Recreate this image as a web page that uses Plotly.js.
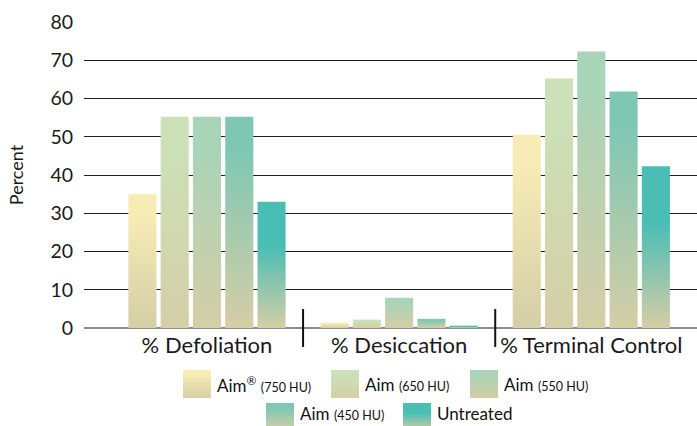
<!DOCTYPE html>
<html>
<head>
<meta charset="utf-8">
<script src="https://cdn.plot.ly/plotly-3.0.1.min.js"></script>
<style>
html,body{margin:0;padding:0;background:#fff;}
#chart{width:697px;height:426px;}
</style>
</head>
<body>
<div id="chart"></div>
<script>
// ---- data ----
const categories = ['% Defoliation', '% Desiccation', '% Terminal Control'];
const seriesNames = ['Aim® (750 HU)', 'Aim (650 HU)', 'Aim (550 HU)', 'Aim (450 HU)', 'Untreated'];
const legendLabels = [
  'Aim<sup>®</sup> <span style="font-size:12.5px">(750 HU)</span>',
  'Aim <span style="font-size:12.5px">(650 HU)</span>',
  'Aim <span style="font-size:12.5px">(550 HU)</span>',
  'Aim <span style="font-size:12.5px">(450 HU)</span>',
  'Untreated'
];
const aim750 = [35, 1.4, 50.5];
const aim650 = [55.2, 2.2, 65.2];
const aim550 = [55.2, 7.9, 72.3];
const aim450 = [55.2, 2.4, 61.8];
const untreated = [33, 0.6, 42.3];
const seriesValues = [aim750, aim650, aim550, aim450, untreated];
const topColors = ['#f7ecb5', '#cce1b7', '#a8d4b7', '#7ec7b4', '#4abdb5'];
const bottomColor = '#d5cea6';
const yTicks = [0, 10, 20, 30, 40, 50, 60, 70, 80];

// ---- layout helpers (pixel -> paper) ----
const W = 697, H = 426;
const M = {l: 84, r: 0, t: 22, b: 98};
const PW = W - M.l - M.r, PH = H - M.t - M.b;
const px = x => (x - M.l) / PW;
const py = y => (H - M.b - y) / PH;

const font = 'Lato, "Open Sans", sans-serif';

const traces = seriesNames.map((n, i) => ({
  type: 'bar',
  name: n,
  x: categories,
  y: seriesValues[i],
  marker: {color: topColors[i], line: {width: 0}},
  showlegend: false,
  hoverinfo: 'skip'
}));

// legend layout (custom, two centred rows)
const legendPos = [
  {sx: 183, cy: 384, ty: 384}, {sx: 331, cy: 384, ty: 384}, {sx: 470, cy: 384, ty: 384},
  {sx: 266, cy: 417, ty: 414}, {sx: 403, cy: 417, ty: 414}
];
const SW = 28;
const shapes = [];
const annotations = [];
legendPos.forEach((p, i) => {
  shapes.push({
    type: 'rect', xref: 'paper', yref: 'paper',
    x0: px(p.sx), x1: px(p.sx + SW),
    y0: py(p.cy - SW / 2), y1: py(p.cy + SW / 2),
    line: {width: 0}, fillcolor: topColors[i], layer: 'above'
  });
  annotations.push({
    xref: 'paper', yref: 'paper', x: px(p.sx + SW + 4), y: py(p.ty),
    xanchor: 'left', yanchor: 'middle', showarrow: false,
    text: legendLabels[i], font: {family: font, size: 17, color: '#111'}
  });
});
// category separators
[0.5, 1.5].forEach(xv => {
  shapes.push({
    type: 'line', xref: 'x', yref: 'paper',
    x0: xv, x1: xv, y0: py(309), y1: py(347),
    line: {color: '#111', width: 2}, layer: 'above'
  });
});

const layout = {
  width: W, height: H,
  margin: M,
  paper_bgcolor: '#fff', plot_bgcolor: '#fff',
  barmode: 'group', bargap: 0.16, bargroupgap: 0.13,
  font: {family: font, color: '#222'},
  xaxis: {
    type: 'category', range: [-0.64, 2.55],
    showgrid: false, showline: false, zeroline: false, ticks: '',
    tickfont: {family: font, size: 22, color: '#1a1a1a'},
    ticklabelstandoff: 2
  },
  yaxis: {
    range: [0, 80], tickvals: yTicks, ticktext: yTicks.map(String),
    showgrid: true, gridcolor: '#1f1f1f', gridwidth: 1,
    zeroline: true, zerolinecolor: '#8a8a8a', zerolinewidth: 1.5,
    showline: false, ticks: '',
    tickfont: {family: font, size: 19.5, color: '#1a1a1a'},
    ticklabelstandoff: 10,
    title: {text: 'Percent', font: {family: font, size: 18, color: '#1a1a1a'}, standoff: 22}
  },
  shapes: shapes,
  annotations: annotations
};

const gd = document.getElementById('chart');
Plotly.newPlot(gd, traces, layout, {staticPlot: true, displayModeBar: false}).then(() => {
  const svg = gd.querySelector('svg.main-svg');
  const NS = 'http://www.w3.org/2000/svg';
  let defs = svg.querySelector('defs');
  if (!defs) { defs = document.createElementNS(NS, 'defs'); svg.insertBefore(defs, svg.firstChild); }
  topColors.forEach((c, i) => {
    const g = document.createElementNS(NS, 'linearGradient');
    g.setAttribute('id', 'barGrad' + i);
    g.setAttribute('x1', '0'); g.setAttribute('y1', '0');
    g.setAttribute('x2', '0'); g.setAttribute('y2', '1');
    const stops = i === 4 ? [[0, c], [0.35, c], [1, bottomColor]] : [[0, c], [0.15, c], [1, bottomColor]];
    stops.forEach(([o, col]) => {
      const s = document.createElementNS(NS, 'stop');
      s.setAttribute('offset', o);
      s.setAttribute('stop-color', col);
      g.appendChild(s);
    });
    defs.appendChild(g);
  });
  gd.querySelectorAll('.barlayer .trace').forEach((t, i) => {
    t.querySelectorAll('path').forEach(p => { p.style.fill = 'url(#barGrad' + i + ')'; });
  });
  gd.querySelectorAll('.shapelayer path').forEach(p => {
    const idx = +p.getAttribute('data-index');
    if (idx < 5) p.style.fill = 'url(#barGrad' + idx + ')';
  });
});
</script>
</body>
</html>
